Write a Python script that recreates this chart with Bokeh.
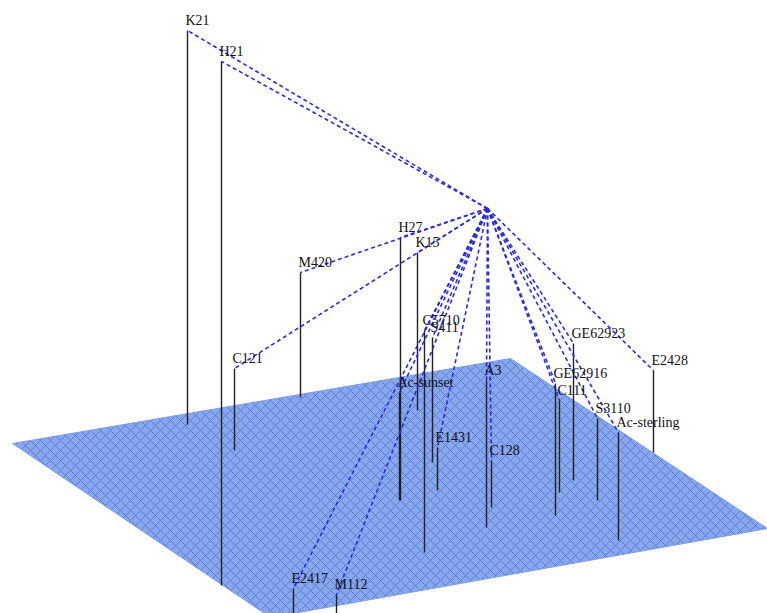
from bokeh.plotting import figure
from bokeh.models import Range1d, ColumnDataSource
from bokeh.core.properties import value
from bokeh.embed import file_html
from bokeh.resources import INLINE

W, H = 767, 613

# projected (screen) positions of the 3D scene
labels = ["K21", "H21", "H27", "K15", "M420", "C121", "C5710", "S411", "Ac-sunset",
          "E1431", "A3", "C128", "GE62916", "C111", "GE62923", "S3110", "Ac-sterling",
          "E2428", "E2417", "M112"]
pt_x = [187, 221, 400, 417, 300, 234, 424, 432, 399,
        437, 486, 491, 555, 559, 573, 597, 618,
        653, 293, 336]
pt_top = [30, 61, 237, 252, 272, 368, 330, 337, 392,
          447, 380, 460, 383, 400, 343, 418, 432,
          370, 588, 594]
pt_base = [424, 585, 500, 410, 397, 450, 552, 462, 500,
           490, 527, 507, 515, 492, 480, 500, 540,
           452, 640, 640]

hub_x, hub_y = 487, 208

plane_x = [12, 510, 767, 270]
plane_y = [443, 358, 528, 617]

p = figure(width=W, height=H, output_backend="svg", toolbar_location=None,
           x_range=Range1d(0, W), y_range=Range1d(H, 0),
           min_border=0, min_border_left=0, min_border_right=0,
           min_border_top=0, min_border_bottom=0)
p.axis.visible = False
p.xgrid.visible = False
p.ygrid.visible = False
p.outline_line_color = None
p.background_fill_color = "white"
p.border_fill_color = "white"

p.patch(plane_x, plane_y, fill_color="#86a7f2", line_color="#7f9ee6", line_width=1,
        hatch_pattern="diagonal_cross", hatch_scale=10, hatch_color="#4a5f9c",
        hatch_alpha=0.6, hatch_weight=1)

src = ColumnDataSource(dict(x=pt_x, top=pt_top, base=pt_base, label=labels,
                            hx=[hub_x] * len(labels), hy=[hub_y] * len(labels)))

p.segment(x0="x", y0="top", x1="x", y1="base", source=src,
          line_color="#222222", line_width=1.4)
p.segment(x0="hx", y0="hy", x1="x", y1="top", source=src,
          line_color="#2a2ae0", line_width=1.6, line_dash="4 3")
p.text(x="x", y="top", text="label", source=src, text_font=value("Liberation Serif"),
       text_font_size="14px", text_color="#111111", text_baseline="bottom",
       text_align="left", x_offset=-2, y_offset=-3)

open("out.html", "w").write(file_html(p, INLINE))
